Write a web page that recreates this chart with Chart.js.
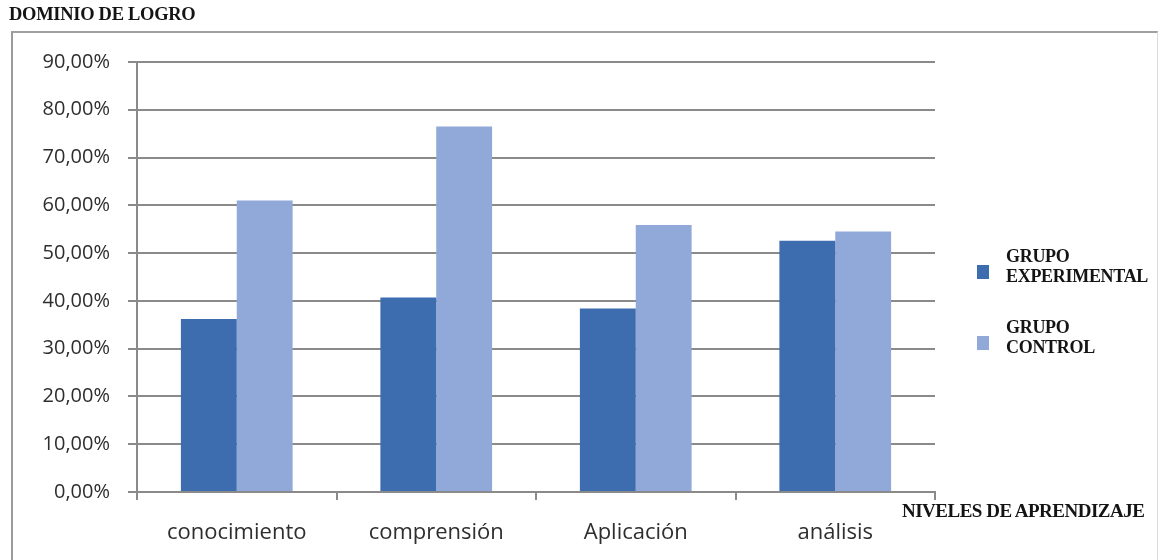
<!DOCTYPE html>
<html>
<head>
<meta charset="utf-8">
<script src="https://cdn.jsdelivr.net/npm/chart.js@4/dist/chart.umd.min.js"></script>
<style>
  html, body { margin: 0; padding: 0; background: #fff; }
  #wrap { position: relative; width: 1159px; height: 560px; overflow: hidden; background: #fff; }
  #frame { position: absolute; left: 11px; top: 31px; width: 1144px; height: 540px;
           border-left: 2px solid #9a9a9a; border-top: 2px solid #a0a0a0; border-right: 1px solid #dcdcdc; }
  #chart { position: absolute; left: 0; top: 0; }
  .serif { position: absolute; font-family: "Liberation Serif", "Times New Roman", serif; font-weight: bold; color: #141414; white-space: nowrap; }
  #title { left: 9px; top: 4px; font-size: 18.5px; letter-spacing: -0.3px; }
  #xtitle { left: 902px; top: 500px; font-size: 19px; letter-spacing: -0.5px; }
  .legItem { position: absolute; left: 977px; }
  .legBox { position: absolute; left: 0; width: 12px; height: 14px; }
  .legText { position: absolute; left: 29px; font-size: 18px; line-height: 20px; letter-spacing: -0.3px; }
</style>
</head>
<body>
<div id="wrap">
  <div id="frame"></div>
  <canvas id="chart" width="1159" height="560"></canvas>
  <div id="title" class="serif">DOMINIO DE LOGRO</div>
  <div id="xtitle" class="serif">NIVELES DE APRENDIZAJE</div>
  <div id="legend"></div>
</div>
<script>
// Learning levels on the category axis
const categories = ["conocimiento", "comprensión", "Aplicación", "análisis"];
// Achievement share per group (fraction of 1)
const grupoExperimental = [0.362, 0.407, 0.384, 0.526];
const grupoControl = [0.610, 0.765, 0.559, 0.545];
// Series names as shown in the legend (two lines each)
const seriesNames = [["GRUPO", "EXPERIMENTAL"], ["GRUPO", "CONTROL"]];
const seriesColors = ["#3d6caf", "#91a9d8"];
// Value axis range
const yMax = 0.9;
const yStep = 0.1;

const gridColor = "#8a8a8a";
const labelColor = "#2e2e2e";

function pct(v) {
  return (v * 100).toFixed(2).replace(".", ",") + "%";
}

const chart = new Chart(document.getElementById("chart"), {
  type: "bar",
  data: {
    labels: categories,
    datasets: [
      { label: seriesNames[0].join(" "), data: grupoExperimental, backgroundColor: seriesColors[0], borderWidth: 0 },
      { label: seriesNames[1].join(" "), data: grupoControl, backgroundColor: seriesColors[1], borderWidth: 0 }
    ]
  },
  options: {
    responsive: false,
    animation: false,
    datasets: { bar: { categoryPercentage: 0.56, barPercentage: 1.0 } },
    layout: { padding: { left: 0, top: 62, right: 224, bottom: 0 } },
    plugins: { legend: { display: false }, tooltip: { enabled: false } },
    scales: {
      x: {
        offset: true,
        afterFit: s => { s.height = 68; },
        grid: { offset: true, drawOnChartArea: false, drawTicks: true, tickLength: 8, color: gridColor, lineWidth: 2 },
        border: { display: true, color: gridColor, width: 2 },
        ticks: { color: labelColor, padding: 20, font: { family: "'Open Sans', sans-serif", size: 22 } }
      },
      y: {
        min: 0,
        max: yMax,
        afterFit: s => { s.width = 137; },
        grid: { drawTicks: true, tickLength: 9, color: gridColor, lineWidth: 2 },
        border: { display: true, color: gridColor, width: 2 },
        ticks: {
          stepSize: yStep,
          padding: 18,
          color: labelColor,
          font: { family: "'Open Sans', sans-serif", size: 20 },
          callback: v => pct(v)
        }
      }
    }
  }
});

// Legend built from the chart's own datasets
const legend = document.getElementById("legend");
const legendTops = [246, 317];
chart.data.datasets.forEach((ds, i) => {
  const item = document.createElement("div");
  item.className = "legItem";
  item.style.top = legendTops[i] + "px";
  const box = document.createElement("div");
  box.className = "legBox";
  box.style.top = "19px";
  box.style.background = ds.backgroundColor;
  const txt = document.createElement("div");
  txt.className = "legText serif";
  txt.style.top = "0px";
  txt.innerHTML = seriesNames[i].join("<br>");
  item.appendChild(box);
  item.appendChild(txt);
  legend.appendChild(item);
});
</script>
</body>
</html>
